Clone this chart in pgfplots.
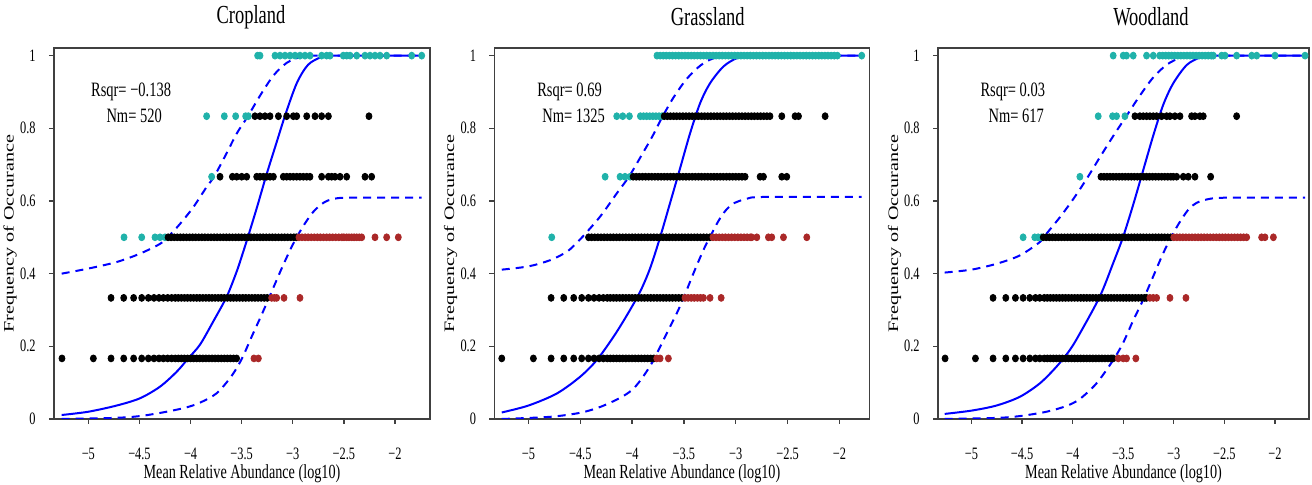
\documentclass[border=0pt]{standalone}
\usepackage{fontspec}
\setmainfont{Liberation Serif}[FakeStretch=0.71]
\newfontfamily\ylabfont{Liberation Serif}[FakeStretch=1.4]
\usepackage{pgfplots}
\pgfplotsset{compat=1.18}
\definecolor{tealc}{RGB}{32,178,170}
\definecolor{redc}{RGB}{170,40,40}
\definecolor{bluec}{RGB}{0,0,255}
\pgfplotsset{
 every axis title shift=0pt,
 myax/.style={
  scale only axis, height=185.5pt, ymin=0, ymax=1.021,
  axis line style={black!75, line width=0.6pt},
  tick align=outside, tick pos=left,
  major tick length=2.5pt, tick style={black!75, line width=0.6pt},
  xtick={-5,-4.5,-4,-3.5,-3,-2.5,-2}, xticklabels={−5,−4.5,−4,−3.5,−3,−2.5,−2},
  ytick={0,0.2,0.4,0.6,0.8,1}, yticklabels={0,0.2,0.4,0.6,0.8,1},
  xticklabel style={anchor=center, inner sep=0pt, yshift=-15pt, font=\fontsize{8.7}{10}\selectfont},
  yticklabel style={anchor=east, inner sep=0pt, xshift=-6.5pt, font=\fontsize{8.7}{10}\selectfont},
  xlabel={Mean Relative Abundance (log10)},
  xlabel style={at={(axis description cs:0.5,-0.147)}, anchor=center, inner sep=0pt, font=\fontsize{10}{12}\selectfont},
  ylabel={Frequency of Occurance},
  ylabel style={at={(axis description cs:-0.117,0.5)}, anchor=center, inner sep=0pt, font=\ylabfont\fontsize{7.2}{9}\selectfont},
  title style={anchor=center, inner sep=0pt, font=\fontsize{13}{15}\selectfont},
 },
 tdot/.style={only marks, mark=*, mark size=1.5pt, color=tealc, mark options={yscale=1.15, draw=none, fill=tealc}},
 bdot/.style={only marks, mark=*, mark size=1.5pt, color=black, mark options={yscale=1.15, draw=none, fill=black}},
 rdot/.style={only marks, mark=*, mark size=1.5pt, color=redc, mark options={yscale=1.15, draw=none, fill=redc}},
 fitc/.style={no marks, smooth, color=bluec, line width=1pt},
 cic/.style={no marks, smooth, color=bluec, line width=1pt, dash pattern=on 4pt off 3pt},
}
\begin{document}
\begin{tikzpicture}
\useasboundingbox (0,0) rectangle (656pt,242.5pt);
% ---------------- Cropland ----------------
\begin{axis}[myax, at={(27pt,33pt)}, anchor=south west, width=188pt,
  xmin=-5.336, xmax=-1.658, title={Cropland},
  title style={at={(axis description cs:0.524,1.0836)}}]
\addplot[tdot] coordinates {(-3.344,1)(-3.321,1)(-3.174,1)(-3.125,1)(-3.076,1)(-3.027,1)(-2.978,1)(-2.930,1)(-2.881,1)(-2.832,1)(-2.718,1)(-2.669,1)(-2.636,1)(-2.506,1)(-2.473,1)(-2.440,1)(-2.375,1)(-2.294,1)(-2.245,1)(-2.196,1)(-2.147,1)(-2.082,1)(-1.837,1)(-1.739,1)
(-3.843,0.8333)(-3.670,0.8333)(-3.559,0.8333)(-3.461,0.8333)(-3.435,0.8333)
(-3.794,0.6667)
(-4.651,0.5)(-4.478,0.5)(-4.348,0.5)(-4.299,0.5)(-4.250,0.5)};
\addplot[bdot] coordinates {(-3.370,0.8333)(-3.321,0.8333)(-3.272,0.8333)(-3.223,0.8333)(-3.141,0.8333)(-3.060,0.8333)(-2.995,0.8333)(-2.962,0.8333)(-2.864,0.8333)(-2.783,0.8333)(-2.718,0.8333)(-2.652,0.8333)(-2.255,0.8333)
(-3.712,0.6667)(-3.591,0.6667)(-3.549,0.6667)(-3.500,0.6667)(-3.451,0.6667)(-3.353,0.6667)(-3.321,0.6667)(-3.288,0.6667)(-3.256,0.6667)(-3.223,0.6667)(-3.190,0.6667)(-3.093,0.6667)(-3.060,0.6667)(-3.027,0.6667)(-2.995,0.6667)(-2.962,0.6667)(-2.930,0.6667)(-2.897,0.6667)(-2.864,0.6667)(-2.832,0.6667)(-2.718,0.6667)(-2.652,0.6667)(-2.620,0.6667)(-2.587,0.6667)(-2.538,0.6667)(-2.473,0.6667)(-2.294,0.6667)(-2.229,0.6667)
(-4.22,0.5)(-4.19,0.5)(-4.16,0.5)(-4.13,0.5)(-4.10,0.5)(-4.07,0.5)(-4.04,0.5)(-4.01,0.5)(-3.98,0.5)(-3.95,0.5)(-3.92,0.5)(-3.89,0.5)(-3.86,0.5)(-3.83,0.5)(-3.80,0.5)(-3.77,0.5)(-3.74,0.5)(-3.71,0.5)(-3.68,0.5)(-3.65,0.5)(-3.62,0.5)(-3.59,0.5)(-3.56,0.5)(-3.53,0.5)(-3.50,0.5)(-3.47,0.5)(-3.44,0.5)(-3.41,0.5)(-3.38,0.5)(-3.35,0.5)(-3.32,0.5)(-3.29,0.5)(-3.26,0.5)(-3.23,0.5)(-3.20,0.5)(-3.17,0.5)(-3.14,0.5)(-3.11,0.5)(-3.08,0.5)(-3.05,0.5)(-3.02,0.5)(-2.99,0.5)(-2.965,0.5)
(-4.778,0.3333)(-4.654,0.3333)(-4.557,0.3333)(-4.478,0.3333)(-4.413,0.3333)(-4.358,0.3333)(-4.309,0.3333)(-4.266,0.3333)(-4.224,0.3333)(-4.185,0.3333)(-4.15,0.3333)(-4.12,0.3333)(-4.09,0.3333)(-4.06,0.3333)(-4.03,0.3333)(-4.00,0.3333)(-3.97,0.3333)(-3.94,0.3333)(-3.91,0.3333)(-3.88,0.3333)(-3.85,0.3333)(-3.82,0.3333)(-3.79,0.3333)(-3.76,0.3333)(-3.73,0.3333)(-3.70,0.3333)(-3.67,0.3333)(-3.64,0.3333)(-3.61,0.3333)(-3.58,0.3333)(-3.55,0.3333)(-3.52,0.3333)(-3.49,0.3333)(-3.46,0.3333)(-3.43,0.3333)(-3.40,0.3333)(-3.37,0.3333)(-3.34,0.3333)(-3.31,0.3333)(-3.28,0.3333)(-3.25,0.3333)
(-5.258,0.1667)(-4.951,0.1667)(-4.778,0.1667)(-4.654,0.1667)(-4.557,0.1667)(-4.478,0.1667)(-4.413,0.1667)(-4.358,0.1667)(-4.309,0.1667)(-4.266,0.1667)(-4.224,0.1667)(-4.185,0.1667)(-4.15,0.1667)(-4.12,0.1667)(-4.09,0.1667)(-4.06,0.1667)(-4.03,0.1667)(-4.00,0.1667)(-3.97,0.1667)(-3.94,0.1667)(-3.91,0.1667)(-3.88,0.1667)(-3.85,0.1667)(-3.82,0.1667)(-3.79,0.1667)(-3.76,0.1667)(-3.73,0.1667)(-3.70,0.1667)(-3.67,0.1667)(-3.64,0.1667)(-3.61,0.1667)(-3.58,0.1667)(-3.55,0.1667)};
\addplot[rdot] coordinates {(-2.94,0.5)(-2.91,0.5)(-2.88,0.5)(-2.85,0.5)(-2.82,0.5)(-2.79,0.5)(-2.76,0.5)(-2.73,0.5)(-2.70,0.5)(-2.67,0.5)(-2.64,0.5)(-2.61,0.5)(-2.58,0.5)(-2.55,0.5)(-2.52,0.5)(-2.50,0.5)(-2.473,0.5)(-2.45,0.5)(-2.424,0.5)(-2.40,0.5)(-2.375,0.5)(-2.35,0.5)(-2.326,0.5)(-2.196,0.5)(-2.082,0.5)(-1.968,0.5)
(-3.207,0.3333)(-3.18,0.3333)(-3.158,0.3333)(-3.086,0.3333)(-2.930,0.3333)
(-3.380,0.1667)(-3.337,0.1667)};
\addplot[fitc] coordinates {(-5.261,0.011)(-5.0,0.02)(-4.723,0.037)(-4.495,0.057)(-4.299,0.089)(-4.136,0.13)(-4.022,0.167)(-3.907,0.205)(-3.775,0.27)(-3.646,0.337)(-3.55,0.405)(-3.50,0.447)(-3.44,0.5)(-3.35,0.583)(-3.26,0.67)(-3.16,0.76)(-3.07,0.84)(-2.96,0.925)(-2.85,0.975)(-2.72,0.996)(-2.60,1.0)(-2.3,1.0)(-1.739,1.0)};
\addplot[cic] coordinates {(-5.261,0.40)(-5.0,0.414)(-4.723,0.432)(-4.495,0.455)(-4.299,0.482)(-4.217,0.502)(-4.103,0.537)(-3.973,0.583)(-3.842,0.639)(-3.77,0.667)(-3.65,0.73)(-3.55,0.785)(-3.44,0.833)(-3.32,0.89)(-3.19,0.945)(-3.06,0.98)(-2.93,0.996)(-2.83,1.0)(-2.5,1.0)(-1.739,1.0)};
\addplot[cic] coordinates {(-5.261,0.0)(-4.75,0.003)(-4.495,0.008)(-4.234,0.02)(-4.04,0.032)(-3.907,0.045)(-3.744,0.071)(-3.60,0.118)(-3.50,0.165)(-3.40,0.228)(-3.30,0.29)(-3.20,0.355)(-3.10,0.42)(-3.0,0.48)(-2.9,0.53)(-2.8,0.57)(-2.7,0.595)(-2.6,0.606)(-2.44,0.609)(-1.739,0.609)};
\node[font=\fontsize{10.2}{12}\selectfont] at (axis cs:-4.582,0.899) {Rsqr= −0.138};
\node[font=\fontsize{10.2}{12}\selectfont] at (axis cs:-4.552,0.833) {Nm= 520};
\end{axis}
% ---------------- Grassland ----------------
\begin{axis}[myax, at={(247.2pt,33pt)}, anchor=south west, width=187.5pt,
  xmin=-5.328, xmax=-1.711, title={Grassland},
  title style={at={(axis description cs:0.569,1.0836)}}]
\addplot[tdot] coordinates {(-3.76,1)(-3.73,1)(-3.70,1)(-3.67,1)(-3.64,1)(-3.61,1)(-3.58,1)(-3.55,1)(-3.52,1)(-3.49,1)(-3.46,1)(-3.43,1)(-3.40,1)(-3.37,1)(-3.34,1)(-3.31,1)(-3.28,1)(-3.25,1)(-3.22,1)(-3.19,1)(-3.16,1)(-3.13,1)(-3.10,1)(-3.07,1)(-3.04,1)(-3.01,1)(-2.98,1)(-2.95,1)(-2.92,1)(-2.89,1)(-2.86,1)(-2.83,1)(-2.80,1)(-2.77,1)(-2.74,1)(-2.71,1)(-2.68,1)(-2.65,1)(-2.62,1)(-2.59,1)(-2.56,1)(-2.53,1)(-2.50,1)(-2.47,1)(-2.44,1)(-2.41,1)(-2.38,1)(-2.35,1)(-2.32,1)(-2.29,1)(-2.26,1)(-2.23,1)(-2.20,1)(-2.17,1)(-2.14,1)(-2.11,1)(-2.08,1)(-2.05,1)(-2.02,1)(-1.785,1)
(-4.148,0.8333)(-4.090,0.8333)(-4.026,0.8333)(-3.92,0.8333)(-3.89,0.8333)(-3.86,0.8333)(-3.83,0.8333)(-3.80,0.8333)(-3.77,0.8333)(-3.74,0.8333)(-3.71,0.8333)
(-4.260,0.6667)(-4.116,0.6667)(-4.068,0.6667)(-4.019,0.6667)
(-4.775,0.5)};
\addplot[bdot] coordinates {(-3.69,0.8333)(-3.66,0.8333)(-3.63,0.8333)(-3.60,0.8333)(-3.57,0.8333)(-3.54,0.8333)(-3.51,0.8333)(-3.48,0.8333)(-3.45,0.8333)(-3.42,0.8333)(-3.39,0.8333)(-3.36,0.8333)(-3.33,0.8333)(-3.30,0.8333)(-3.27,0.8333)(-3.24,0.8333)(-3.21,0.8333)(-3.18,0.8333)(-3.15,0.8333)(-3.12,0.8333)(-3.09,0.8333)(-3.06,0.8333)(-3.03,0.8333)(-3.00,0.8333)(-2.97,0.8333)(-2.94,0.8333)(-2.91,0.8333)(-2.88,0.8333)(-2.85,0.8333)(-2.82,0.8333)(-2.79,0.8333)(-2.76,0.8333)(-2.73,0.8333)(-2.70,0.8333)(-2.67,0.8333)(-2.556,0.8333)(-2.428,0.8333)(-2.395,0.8333)(-2.138,0.8333)
(-3.99,0.6667)(-3.96,0.6667)(-3.93,0.6667)(-3.90,0.6667)(-3.87,0.6667)(-3.84,0.6667)(-3.81,0.6667)(-3.78,0.6667)(-3.75,0.6667)(-3.72,0.6667)(-3.69,0.6667)(-3.66,0.6667)(-3.63,0.6667)(-3.60,0.6667)(-3.57,0.6667)(-3.54,0.6667)(-3.51,0.6667)(-3.48,0.6667)(-3.45,0.6667)(-3.42,0.6667)(-3.39,0.6667)(-3.36,0.6667)(-3.33,0.6667)(-3.30,0.6667)(-3.27,0.6667)(-3.24,0.6667)(-3.21,0.6667)(-3.18,0.6667)(-3.15,0.6667)(-3.12,0.6667)(-3.09,0.6667)(-3.06,0.6667)(-3.03,0.6667)(-3.00,0.6667)(-2.97,0.6667)(-2.94,0.6667)(-2.91,0.6667)(-2.765,0.6667)(-2.733,0.6667)(-2.556,0.6667)(-2.508,0.6667)
(-4.42,0.5)(-4.39,0.5)(-4.36,0.5)(-4.33,0.5)(-4.30,0.5)(-4.27,0.5)(-4.24,0.5)(-4.21,0.5)(-4.18,0.5)(-4.15,0.5)(-4.12,0.5)(-4.09,0.5)(-4.06,0.5)(-4.03,0.5)(-4.00,0.5)(-3.97,0.5)(-3.94,0.5)(-3.91,0.5)(-3.88,0.5)(-3.85,0.5)(-3.82,0.5)(-3.79,0.5)(-3.76,0.5)(-3.73,0.5)(-3.70,0.5)(-3.67,0.5)(-3.64,0.5)(-3.61,0.5)(-3.58,0.5)(-3.55,0.5)(-3.52,0.5)(-3.49,0.5)(-3.46,0.5)(-3.43,0.5)(-3.40,0.5)(-3.37,0.5)(-3.34,0.5)(-3.31,0.5)(-3.28,0.5)(-3.25,0.5)
(-4.781,0.3333)(-4.659,0.3333)(-4.563,0.3333)(-4.486,0.3333)(-4.421,0.3333)(-4.367,0.3333)(-4.318,0.3333)(-4.277,0.3333)(-4.24,0.3333)(-4.21,0.3333)(-4.18,0.3333)(-4.15,0.3333)(-4.12,0.3333)(-4.09,0.3333)(-4.06,0.3333)(-4.03,0.3333)(-4.00,0.3333)(-3.97,0.3333)(-3.94,0.3333)(-3.91,0.3333)(-3.88,0.3333)(-3.85,0.3333)(-3.82,0.3333)(-3.79,0.3333)(-3.76,0.3333)(-3.73,0.3333)(-3.70,0.3333)(-3.67,0.3333)(-3.64,0.3333)(-3.61,0.3333)(-3.58,0.3333)(-3.55,0.3333)(-3.52,0.3333)
(-5.257,0.1667)(-4.952,0.1667)(-4.781,0.1667)(-4.659,0.1667)(-4.563,0.1667)(-4.486,0.1667)(-4.421,0.1667)(-4.367,0.1667)(-4.318,0.1667)(-4.277,0.1667)(-4.24,0.1667)(-4.21,0.1667)(-4.18,0.1667)(-4.15,0.1667)(-4.12,0.1667)(-4.09,0.1667)(-4.06,0.1667)(-4.03,0.1667)(-4.00,0.1667)(-3.97,0.1667)(-3.94,0.1667)(-3.91,0.1667)(-3.88,0.1667)(-3.85,0.1667)(-3.82,0.1667)(-3.79,0.1667)};
\addplot[rdot] coordinates {(-3.22,0.5)(-3.19,0.5)(-3.16,0.5)(-3.13,0.5)(-3.10,0.5)(-3.07,0.5)(-3.04,0.5)(-3.01,0.5)(-2.98,0.5)(-2.95,0.5)(-2.92,0.5)(-2.89,0.5)(-2.86,0.5)(-2.846,0.5)(-2.797,0.5)(-2.685,0.5)(-2.653,0.5)(-2.540,0.5)(-2.315,0.5)
(-3.49,0.3333)(-3.46,0.3333)(-3.43,0.3333)(-3.40,0.3333)(-3.37,0.3333)(-3.34,0.3333)(-3.312,0.3333)(-3.248,0.3333)(-3.141,0.3333)
(-3.762,0.1667)(-3.730,0.1667)(-3.650,0.1667)};
\addplot[fitc] coordinates {(-5.257,0.018)(-5.0,0.037)(-4.727,0.07)(-4.502,0.116)(-4.341,0.162)(-4.180,0.226)(-4.051,0.285)(-3.923,0.35)(-3.826,0.415)(-3.730,0.50)(-3.633,0.595)(-3.537,0.69)(-3.441,0.786)(-3.344,0.869)(-3.248,0.924)(-3.119,0.97)(-2.990,0.993)(-2.862,1.0)(-2.5,1.0)(-1.785,1.0)};
\addplot[cic] coordinates {(-5.257,0.411)(-5.0,0.42)(-4.791,0.437)(-4.630,0.46)(-4.534,0.485)(-4.45,0.51)(-4.30,0.56)(-4.15,0.62)(-4.03,0.667)(-3.90,0.73)(-3.80,0.78)(-3.72,0.825)(-3.60,0.885)(-3.47,0.937)(-3.34,0.973)(-3.22,0.992)(-3.06,1.0)(-2.6,1.0)(-1.785,1.0)};
\addplot[cic] coordinates {(-5.257,0.0)(-4.791,0.006)(-4.502,0.017)(-4.309,0.033)(-4.116,0.058)(-4.0,0.08)(-3.923,0.105)(-3.85,0.135)(-3.794,0.162)(-3.665,0.236)(-3.569,0.291)(-3.505,0.332)(-3.408,0.401)(-3.312,0.465)(-3.247,0.502)(-3.167,0.545)(-3.10,0.573)(-3.023,0.593)(-2.894,0.606)(-2.733,0.611)(-1.785,0.611)};
\node[font=\fontsize{10.2}{12}\selectfont] at (axis cs:-4.603,0.899) {Rsqr= 0.69};
\node[font=\fontsize{10.2}{12}\selectfont] at (axis cs:-4.564,0.833) {Nm= 1325};
\end{axis}
% ---------------- Woodland ----------------
\begin{axis}[myax, at={(469pt,33pt)}, anchor=south west, width=185.5pt,
  xmin=-5.330, xmax=-1.664, title={Woodland},
  title style={at={(axis description cs:0.574,1.0836)}}]
\addplot[tdot] coordinates {(-3.599,1)(-3.500,1)(-3.467,1)(-3.401,1)(-3.269,1)(-3.203,1)(-3.14,1)(-3.11,1)(-3.08,1)(-3.05,1)(-3.02,1)(-2.99,1)(-2.96,1)(-2.93,1)(-2.90,1)(-2.87,1)(-2.84,1)(-2.81,1)(-2.78,1)(-2.75,1)(-2.72,1)(-2.69,1)(-2.66,1)(-2.63,1)(-2.61,1)(-2.527,1)(-2.494,1)(-2.379,1)(-2.230,1)(-2.181,1)(-2.0,1)(-1.703,1)
(-3.747,0.8333)(-3.605,0.8333)(-3.566,0.8333)(-3.483,0.8333)
(-3.928,0.6667)
(-4.489,0.5)(-4.374,0.5)(-4.341,0.5)(-4.308,0.5)};
\addplot[bdot] coordinates {(-3.384,0.8333)(-3.335,0.8333)(-3.302,0.8333)(-3.269,0.8333)(-3.236,0.8333)(-3.203,0.8333)(-3.170,0.8333)(-3.121,0.8333)(-3.071,0.8333)(-3.038,0.8333)(-2.989,0.8333)(-2.939,0.8333)(-2.824,0.8333)(-2.791,0.8333)(-2.742,0.8333)(-2.709,0.8333)(-2.379,0.8333)
(-3.72,0.6667)(-3.69,0.6667)(-3.66,0.6667)(-3.63,0.6667)(-3.60,0.6667)(-3.57,0.6667)(-3.54,0.6667)(-3.51,0.6667)(-3.48,0.6667)(-3.45,0.6667)(-3.42,0.6667)(-3.39,0.6667)(-3.36,0.6667)(-3.33,0.6667)(-3.30,0.6667)(-3.27,0.6667)(-3.24,0.6667)(-3.21,0.6667)(-3.18,0.6667)(-3.15,0.6667)(-3.12,0.6667)(-3.09,0.6667)(-3.06,0.6667)(-3.03,0.6667)(-3.005,0.6667)(-2.972,0.6667)(-2.906,0.6667)(-2.857,0.6667)(-2.791,0.6667)(-2.636,0.6667)
(-4.29,0.5)(-4.26,0.5)(-4.23,0.5)(-4.20,0.5)(-4.17,0.5)(-4.14,0.5)(-4.11,0.5)(-4.08,0.5)(-4.05,0.5)(-4.02,0.5)(-3.99,0.5)(-3.96,0.5)(-3.93,0.5)(-3.90,0.5)(-3.87,0.5)(-3.84,0.5)(-3.81,0.5)(-3.78,0.5)(-3.75,0.5)(-3.72,0.5)(-3.69,0.5)(-3.66,0.5)(-3.63,0.5)(-3.60,0.5)(-3.57,0.5)(-3.54,0.5)(-3.51,0.5)(-3.48,0.5)(-3.45,0.5)(-3.42,0.5)(-3.39,0.5)(-3.36,0.5)(-3.33,0.5)(-3.30,0.5)(-3.27,0.5)(-3.24,0.5)(-3.21,0.5)(-3.18,0.5)(-3.15,0.5)(-3.12,0.5)(-3.09,0.5)(-3.06,0.5)(-3.03,0.5)
(-4.786,0.3333)(-4.660,0.3333)(-4.565,0.3333)(-4.489,0.3333)(-4.423,0.3333)(-4.367,0.3333)(-4.324,0.3333)(-4.28,0.3333)(-4.25,0.3333)(-4.22,0.3333)(-4.19,0.3333)(-4.16,0.3333)(-4.13,0.3333)(-4.10,0.3333)(-4.07,0.3333)(-4.04,0.3333)(-4.01,0.3333)(-3.98,0.3333)(-3.95,0.3333)(-3.92,0.3333)(-3.89,0.3333)(-3.86,0.3333)(-3.83,0.3333)(-3.80,0.3333)(-3.77,0.3333)(-3.74,0.3333)(-3.71,0.3333)(-3.68,0.3333)(-3.65,0.3333)(-3.62,0.3333)(-3.59,0.3333)(-3.56,0.3333)(-3.53,0.3333)(-3.50,0.3333)(-3.47,0.3333)(-3.44,0.3333)(-3.41,0.3333)(-3.38,0.3333)(-3.35,0.3333)(-3.32,0.3333)(-3.29,0.3333)(-3.27,0.3333)
(-5.260,0.1667)(-4.960,0.1667)(-4.786,0.1667)(-4.660,0.1667)(-4.565,0.1667)(-4.489,0.1667)(-4.423,0.1667)(-4.367,0.1667)(-4.324,0.1667)(-4.28,0.1667)(-4.25,0.1667)(-4.22,0.1667)(-4.19,0.1667)(-4.16,0.1667)(-4.13,0.1667)(-4.10,0.1667)(-4.07,0.1667)(-4.04,0.1667)(-4.01,0.1667)(-3.98,0.1667)(-3.95,0.1667)(-3.92,0.1667)(-3.89,0.1667)(-3.86,0.1667)(-3.83,0.1667)(-3.80,0.1667)(-3.77,0.1667)(-3.74,0.1667)(-3.71,0.1667)(-3.68,0.1667)(-3.65,0.1667)(-3.62,0.1667)(-3.60,0.1667)};
\addplot[rdot] coordinates {(-3.00,0.5)(-2.97,0.5)(-2.94,0.5)(-2.91,0.5)(-2.88,0.5)(-2.85,0.5)(-2.82,0.5)(-2.79,0.5)(-2.76,0.5)(-2.73,0.5)(-2.70,0.5)(-2.67,0.5)(-2.64,0.5)(-2.61,0.5)(-2.58,0.5)(-2.55,0.5)(-2.52,0.5)(-2.49,0.5)(-2.46,0.5)(-2.43,0.5)(-2.40,0.5)(-2.37,0.5)(-2.34,0.5)(-2.31,0.5)(-2.28,0.5)(-2.132,0.5)(-2.099,0.5)(-2.016,0.5)
(-3.236,0.3333)(-3.203,0.3333)(-3.170,0.3333)(-3.038,0.3333)(-2.880,0.3333)
(-3.549,0.1667)(-3.500,0.1667)(-3.467,0.1667)(-3.375,0.1667)};
\addplot[fitc] coordinates {(-5.264,0.014)(-5.0,0.023)(-4.753,0.037)(-4.522,0.061)(-4.324,0.098)(-4.159,0.144)(-4.027,0.19)(-3.929,0.235)(-3.731,0.337)(-3.599,0.429)(-3.50,0.502)(-3.401,0.59)(-3.302,0.685)(-3.203,0.78)(-3.104,0.865)(-3.005,0.924)(-2.873,0.974)(-2.742,0.995)(-2.643,1.0)(-2.3,1.0)(-1.703,1.0)};
\addplot[cic] coordinates {(-5.264,0.403)(-5.0,0.411)(-4.753,0.427)(-4.522,0.45)(-4.324,0.487)(-4.258,0.51)(-4.126,0.555)(-3.994,0.605)(-3.863,0.66)(-3.731,0.72)(-3.60,0.778)(-3.47,0.833)(-3.335,0.89)(-3.203,0.94)(-3.07,0.975)(-2.94,0.994)(-2.85,1.0)(-2.5,1.0)(-1.703,1.0)};
\addplot[cic] coordinates {(-5.264,0.0)(-4.75,0.003)(-4.522,0.008)(-4.258,0.02)(-4.06,0.036)(-3.929,0.055)(-3.764,0.098)(-3.599,0.162)(-3.50,0.21)(-3.40,0.272)(-3.303,0.328)(-3.204,0.392)(-3.105,0.456)(-3.006,0.511)(-2.923,0.55)(-2.85,0.578)(-2.774,0.595)(-2.643,0.606)(-2.478,0.609)(-1.703,0.609)};
\node[font=\fontsize{10.2}{12}\selectfont] at (axis cs:-4.591,0.899) {Rsqr= 0.03};
\node[font=\fontsize{10.2}{12}\selectfont] at (axis cs:-4.557,0.833) {Nm= 617};
\end{axis}
\end{tikzpicture}
\end{document}
